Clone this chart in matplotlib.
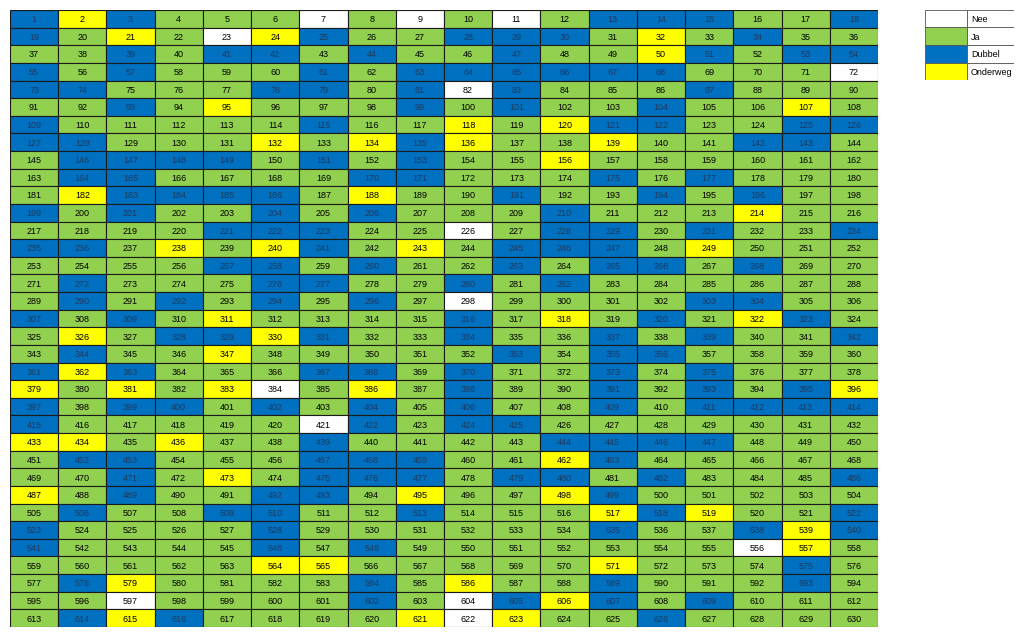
import numpy as np
import matplotlib.pyplot as plt
from matplotlib.patches import Rectangle

# Status per cell, one string per row of 18 (G=Ja, B=Dubbel, Y=Onderweg, W=Nee)
rows = [
    "BYBGGGWGWGWGBBBGGB",
    "BGYGWYBGGBBBGYGBGG",
    "GGBGBBGBGGBGGYBGBB",
    "BGBGGGBGBBBBBBGGGW",
    "BBGGGBBGBWBGGGBGGG",
    "GGBGYGGGBGBGGBGGYG",
    "BGGGGGBGGYGYBBGGBB",
    "BBGGGYGYBYGGYGGBBG",
    "GBBBBGBGBGGYGGGGGG",
    "GBBGGGGBBGGGBGBGGG",
    "GYBBBBGYGGBGGBGBGG",
    "BGBGGBGBGGGBGGGYGG",
    "GGGGBBBGGWGBBGBGGB",
    "BBGYGYBGYGBBBGYGGG",
    "GGGGBBGBGGBGBBGBGG",
    "GBGGGBBGGBGBGGGGGG",
    "GBGBGBGBGWGGGGBBGG",
    "BGBGYGGGGBGYGBGYBG",
    "GYGBBYBGGBGGBGBGGB",
    "GBGGYGGGGGBGBBGGGG",
    "BYBGGGBBGBGGBGBGGG",
    "YGYGYWGYGBGGBGBGBY",
    "BGBBGBGBGBGGBGBBBB",
    "BGGGGGWBGBBGGGGGGG",
    "YYGYGGBGGGGBBBBGGG",
    "GBBGGGBBBGGYBGGGGG",
    "GGBGYGBBBGBBGBGGGB",
    "YGBGGBBGYGGYBGGGGG",
    "GBGGBBGGBGGGYBYGGB",
    "BGGGGBGGGGGGBGGBYB",
    "BGGGGBGBGGGGGGGWYG",
    "GGGGGYYGGGGGYGGGBG",
    "GBYGGGGBGYGGBGGGBG",
    "GGWGGGGBGWBYBGBGGG",
    "GBYBGGGGYWYGGBGGGG",
]
colors = {"W": "#FFFFFF", "G": "#92D050", "B": "#0070C0", "Y": "#FFFF00"}
legend_keys = ["W", "G", "B", "Y"]
legend_labels = ["Nee", "Ja", "Dubbel", "Onderweg"]

n_rows, n_cols = len(rows), len(rows[0])

fig = plt.figure(figsize=(10.24, 6.37), dpi=100)

ax = fig.add_axes([10 / 1024, 1 - 627 / 637, 868 / 1024, 617 / 637])
for r, line in enumerate(rows):
    for c, k in enumerate(line):
        ax.add_patch(Rectangle((c, r), 1, 1, facecolor=colors[k],
                               edgecolor="#1a1a1a", lw=0.8))
        num = r * n_cols + c + 1
        tc = "#1f3a60" if k == "B" else "black"
        ax.text(c + 0.5, r + 0.55, str(num), ha="center", va="center",
                fontsize=6.5, color=tc, family="Liberation Sans")
ax.set_xlim(0, n_cols)
ax.set_ylim(n_rows, 0)
ax.axis("off")

# legend table
lx = fig.add_axes([925 / 1024, 1 - 80 / 637, 89 / 1024, 70 / 637])
for i, (k, lab) in enumerate(zip(legend_keys, legend_labels)):
    lx.add_patch(Rectangle((0, i), 1, 1, facecolor=colors[k],
                           edgecolor="#555555", lw=0.6))
    lx.add_patch(Rectangle((1, i), 1.1, 1, facecolor="white",
                           edgecolor="#555555", lw=0.6))
    lx.text(1.08, i + 0.55, lab, ha="left", va="center", fontsize=6.5,
            family="Liberation Sans")
lx.set_xlim(0, 2.1)
lx.set_ylim(4, 0)
lx.axis("off")

fig.savefig("out.png", dpi=100)
